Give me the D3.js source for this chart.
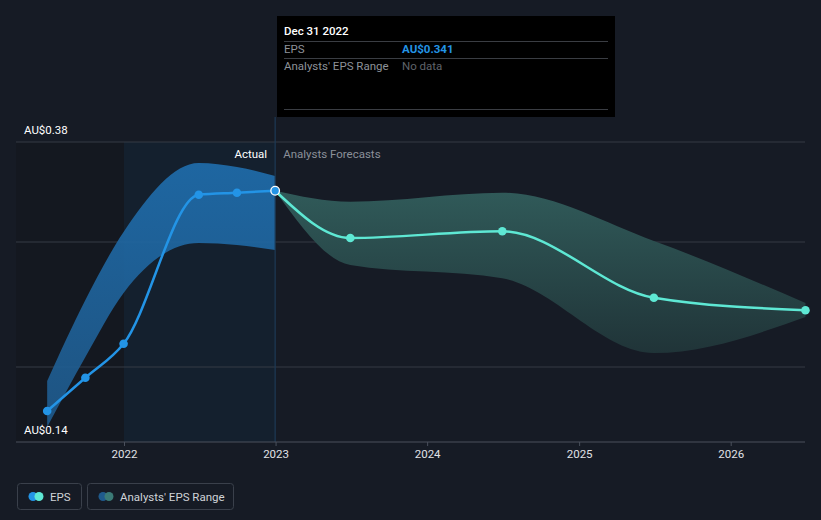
<!DOCTYPE html>
<html><head><meta charset="utf-8">
<script src="https://cdn.jsdelivr.net/npm/d3@7"></script>
<style>
html,body{margin:0;padding:0;background:#161b25;}
svg{display:block;font-family:Roboto,"Open Sans",sans-serif;}
</style></head>
<body><svg id="c" width="821" height="520"></svg>
<script>
// ---- data ----
const actualDates = ["2021-06-30","2021-09-30","2021-12-31","2022-06-30","2022-09-30","2022-12-31"];
const actualEPS   = [0.1648, 0.1914, 0.2186, 0.3378, 0.3394, 0.341];
const actualHigh  = [0.1888, 0.2536, 0.3080, 0.3632, 0.3600, 0.3528];
const actualLow   = [0.1520, 0.2080, 0.2592, 0.2992, 0.2976, 0.2936];

const forecastDates = ["2022-12-31","2023-06-30","2024-06-30","2025-06-30","2026-06-30"];
const forecastEPS   = [0.341, 0.3032, 0.3086, 0.2554, 0.2454];
const forecastHigh  = [0.341, 0.3322, 0.3394, 0.3008, 0.2512];
const forecastLow   = [0.341, 0.2816, 0.2710, 0.2112, 0.2400];

const yearTicks = ["2022","2023","2024","2025","2026"];
const yTickLabels = [{v:0.38, t:"AU$0.38"},{v:0.14, t:"AU$0.14"}];
const gridValues = [0.38, 0.30, 0.20];

const tooltipDate = "Dec 31 2022";
const tooltipEPS = "AU$0.341";

// ---- setup ----
const svg = d3.select("#c");
const P = d3.utcParse("%Y-%m-%d");
const x = d3.scaleUtc().domain([P("2022-01-01"), P("2026-01-01")]).range([124, 730.7]);
const y = d3.scaleLinear().domain([0.14, 0.38]).range([442, 142]);
const left = 16, right = 805;

const actual = actualDates.map((d,i)=>({d:P(d), v:actualEPS[i], hi:actualHigh[i], lo:actualLow[i]}));
const fc = forecastDates.map((d,i)=>({d:P(d), v:forecastEPS[i], hi:forecastHigh[i], lo:forecastLow[i]}));

const defs = svg.append("defs");
const g1 = defs.append("linearGradient").attr("id","gBlue").attr("x1",0).attr("y1",0).attr("x2",0).attr("y2",1);
g1.append("stop").attr("offset","0%").attr("stop-color","#1f6eae");
g1.append("stop").attr("offset","100%").attr("stop-color","#1f5a8c");
const g2 = defs.append("linearGradient").attr("id","gTeal").attr("x1",0).attr("y1",0).attr("x2",0).attr("y2",1);
g2.append("stop").attr("offset","0%").attr("stop-color","#305a59");
g2.append("stop").attr("offset","100%").attr("stop-color","#203438");

// background regions
const x22 = x(P("2022-01-01")), xNow = x(P("2022-12-31"));
svg.append("rect").attr("x",left).attr("y",y(0.38)).attr("width",x22-left).attr("height",y(0.14)-y(0.38)).attr("fill","#141820");
svg.append("rect").attr("x",x22).attr("y",y(0.38)).attr("width",xNow-x22).attr("height",y(0.14)-y(0.38)).attr("fill","#14202e");

// grid
svg.append("g").selectAll("line").data(gridValues).join("line")
  .attr("x1",left).attr("x2",right).attr("y1",d=>y(d)).attr("y2",d=>y(d))
  .attr("stroke","#353a45").attr("stroke-width",1);

// bands
const areaGen = d3.area().x(d=>x(d.d)).y0(d=>y(d.lo)).y1(d=>y(d.hi)).curve(d3.curveMonotoneX);
svg.append("path").datum(fc).attr("d",areaGen).attr("fill","url(#gTeal)");
svg.append("path").datum(actual).attr("d",areaGen).attr("fill","url(#gBlue)").attr("opacity",0.9);

// now line
svg.append("line").attr("x1",xNow).attr("x2",xNow).attr("y1",117).attr("y2",442).attr("stroke","#1d3a55").attr("stroke-width",1.2);

// x axis
const xAxis = d3.axisBottom(x).tickValues(yearTicks.map(t=>P(t+"-01-01"))).tickFormat(d3.utcFormat("%Y")).tickSize(4).tickPadding(4);
const ax = svg.append("g").attr("transform","translate(0,442)").call(xAxis);
ax.select(".domain").remove();
ax.selectAll(".tick line").attr("stroke","#4a505c");
ax.selectAll(".tick text").attr("fill","#e0e2e6").attr("font-size",11.5).attr("font-family","Roboto,sans-serif");
svg.append("line").attr("x1",left).attr("x2",right).attr("y1",442).attr("y2",442).attr("stroke","#4a505c");

// y labels
svg.append("g").selectAll("text").data(yTickLabels).join("text")
  .attr("x",24).attr("y",d=>y(d.v)-8).attr("fill","#ffffff").attr("font-size",11.5).text(d=>d.t);

// lines
const lineGen = d3.line().x(d=>x(d.d)).y(d=>y(d.v)).curve(d3.curveMonotoneX);
svg.append("path").datum(fc).attr("d",lineGen).attr("fill","none").attr("stroke","#5ee8d4").attr("stroke-width",2.5);
svg.append("path").datum(actual).attr("d",lineGen).attr("fill","none").attr("stroke","#2394e6").attr("stroke-width",2.5);

svg.append("g").selectAll("circle").data(fc.slice(1)).join("circle")
  .attr("cx",d=>x(d.d)).attr("cy",d=>y(d.v)).attr("r",4.3).attr("fill","#5ee8d4");
svg.append("g").selectAll("circle").data(actual.slice(0,-1)).join("circle")
  .attr("cx",d=>x(d.d)).attr("cy",d=>y(d.v)).attr("r",4.3).attr("fill","#2394e6");
const last = actual[actual.length-1];
svg.append("circle").attr("cx",x(last.d)).attr("cy",y(last.v)).attr("r",4.3).attr("fill","#2394e6").attr("stroke","#ffffff").attr("stroke-width",1.3);

// labels Actual / Analysts Forecasts
svg.append("text").attr("x",xNow-8).attr("y",158).attr("text-anchor","end").attr("fill","#ffffff").attr("font-size",11.5).text("Actual");
svg.append("text").attr("x",xNow+8).attr("y",158).attr("fill","#8b9099").attr("font-size",11.5).text("Analysts Forecasts");

// tooltip
const tt = svg.append("g");
tt.append("rect").attr("x",277).attr("y",16).attr("width",338).attr("height",101).attr("fill","#000000");
tt.append("text").attr("x",284).attr("y",35).attr("fill","#ffffff").attr("font-size",11.5).attr("font-weight",500).text(tooltipDate);
[41,58,109].forEach(yy=>tt.append("line").attr("x1",284).attr("x2",608).attr("y1",yy+0.5).attr("y2",yy+0.5).attr("stroke","#3a3d43"));
tt.append("text").attr("x",284).attr("y",53).attr("fill","#8e9299").attr("font-size",11.5).text("EPS");
tt.append("text").attr("x",402).attr("y",53).attr("fill","#2394e6").attr("font-size",11.5).attr("font-weight",700).text(tooltipEPS);
tt.append("text").attr("x",284).attr("y",70).attr("fill","#8e9299").attr("font-size",11.5).text("Analysts' EPS Range");
tt.append("text").attr("x",402).attr("y",70).attr("fill","#5f636a").attr("font-size",11.5).text("No data");

// legend
const lg = svg.append("g");
lg.append("rect").attr("x",17.5).attr("y",483.5).attr("width",64).attr("height",26).attr("rx",3).attr("fill","none").attr("stroke","#3a404b");
lg.append("circle").attr("cx",33).attr("cy",496.5).attr("r",4.5).attr("fill","#2394e6");
lg.append("circle").attr("cx",39).attr("cy",496.5).attr("r",4.5).attr("fill","#5ee8d4");
lg.append("text").attr("x",50).attr("y",501).attr("fill","#d0d3d8").attr("font-size",11.5).text("EPS");
lg.append("rect").attr("x",87.5).attr("y",483.5).attr("width",146).attr("height",26).attr("rx",3).attr("fill","none").attr("stroke","#3a404b");
lg.append("circle").attr("cx",103).attr("cy",496.5).attr("r",4.5).attr("fill","#1f5a8c");
lg.append("circle").attr("cx",109).attr("cy",496.5).attr("r",4.5).attr("fill","#3b7a76");
lg.append("text").attr("x",120).attr("y",501).attr("fill","#d0d3d8").attr("font-size",11.5).text("Analysts' EPS Range");
</script></body></html>
